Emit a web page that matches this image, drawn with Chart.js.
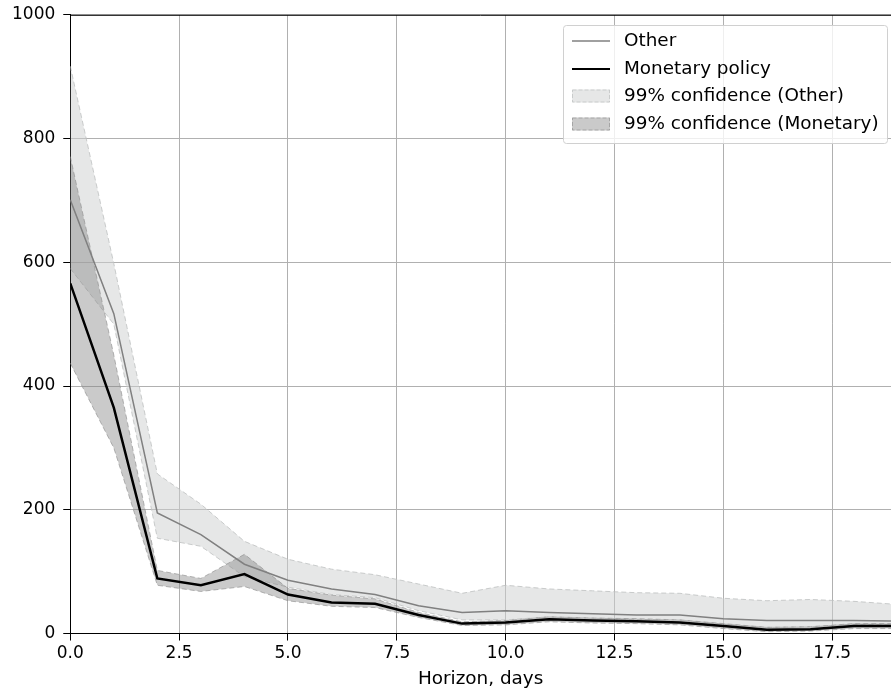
<!DOCTYPE html>
<html>
<head>
<meta charset="utf-8">
<script src="https://cdn.jsdelivr.net/npm/chart.js@4.4.0/dist/chart.umd.min.js"></script>
<style>
  html, body { margin: 0; padding: 0; background: #fff; }
  #wrap { width: 891px; height: 694px; }
</style>
</head>
<body>
<div id="wrap"><canvas id="chart" width="891" height="694"></canvas></div>
<script>
// horizon in days
const days = [0, 1, 2, 3, 4, 5, 6, 7, 8, 9, 10, 11, 12, 13, 14, 15, 16, 17, 18, 19];

const otherVals  = [701, 517, 195, 160, 112, 86, 72, 63, 45, 34, 37, 34, 32, 30, 30, 24, 21, 21, 21, 20];
const otherUpper = [917, 598, 258, 209, 149, 120, 104, 95, 80, 65, 78, 72, 69, 66, 65, 57, 53, 55, 52, 47];
const otherLower = [590, 500, 154, 141, 92, 75, 63, 58, 37, 22, 22, 27, 25, 23, 22, 15, 10, 11, 15, 14];

const monetaryVals  = [566, 365, 89, 78, 96, 63, 50, 48, 30, 16, 18, 23, 21, 20, 18, 12, 6, 7, 12, 12];
const monetaryUpper = [771, 450, 102, 89, 128, 73, 62, 56, 34, 19, 21, 27, 25, 24, 22, 16, 10, 11, 16, 16];
const monetaryLower = [437, 300, 78, 68, 76, 53, 44, 42, 26, 13, 14, 19, 17, 16, 14, 8, 3, 4, 8, 8];

const xTicks = [0, 2.5, 5, 7.5, 10, 12.5, 15, 17.5];
const legendLabels = ["Other", "Monetary policy", "99% confidence (Other)", "99% confidence (Monetary)"];

function pts(vals) {
  return days.map((d, i) => ({ x: d, y: vals[i] }));
}

const FONT = "'DejaVu Sans', sans-serif";

// top spine + matplotlib-like legend box
const extras = {
  id: "extras",
  afterDraw(chart) {
    const ctx = chart.ctx;
    const a = chart.chartArea;
    ctx.save();
    ctx.strokeStyle = "#000";
    ctx.lineWidth = 1;
    ctx.beginPath();
    ctx.moveTo(a.left, a.top + 0.5);
    ctx.lineTo(a.right, a.top + 0.5);
    ctx.stroke();

    // legend
    const bx = 563.5, by = 25.5, bw = 324, bh = 118;
    ctx.fillStyle = "rgba(255,255,255,0.8)";
    ctx.strokeStyle = "#d0d0d0";
    ctx.beginPath();
    ctx.roundRect(bx, by, bw, bh, 3);
    ctx.fill();
    ctx.stroke();

    const rows = [41, 69, 96, 124];
    // line handles
    ctx.setLineDash([]);
    ctx.strokeStyle = "#808080";
    ctx.lineWidth = 1.5;
    ctx.beginPath(); ctx.moveTo(572, rows[0]); ctx.lineTo(610, rows[0]); ctx.stroke();
    ctx.strokeStyle = "#000";
    ctx.lineWidth = 2.2;
    ctx.beginPath(); ctx.moveTo(572, rows[1]); ctx.lineTo(610, rows[1]); ctx.stroke();
    // patch handles
    ctx.lineWidth = 1;
    ctx.setLineDash([4, 2]);
    ctx.fillStyle = "rgba(205,207,207,0.5)";
    ctx.strokeStyle = "rgba(190,192,192,0.7)";
    ctx.fillRect(572, rows[2] - 6.5, 38, 13);
    ctx.strokeRect(572.5, rows[2] - 6, 37, 12);
    ctx.fillStyle = "rgba(128,128,128,0.42)";
    ctx.strokeStyle = "rgba(140,140,140,0.6)";
    ctx.fillRect(572, rows[3] - 6.5, 38, 13);
    ctx.strokeRect(572.5, rows[3] - 6, 37, 12);
    ctx.setLineDash([]);

    ctx.fillStyle = "#000";
    ctx.font = "18.4px " + FONT;
    ctx.textBaseline = "middle";
    ctx.textAlign = "left";
    legendLabels.forEach((t, i) => ctx.fillText(t, 624, rows[i]));
    ctx.restore();
  }
};

const bandDash = [5, 3];

new Chart(document.getElementById("chart"), {
  type: "line",
  data: {
    datasets: [
      {
        label: "Other upper",
        data: pts(otherUpper),
        borderColor: "rgba(190,192,192,0.8)",
        borderWidth: 1,
        borderDash: bandDash,
        backgroundColor: "rgba(205,207,207,0.5)",
        fill: 1,
        order: 10
      },
      {
        label: "Other lower",
        data: pts(otherLower),
        borderColor: "rgba(190,192,192,0.8)",
        borderWidth: 1,
        borderDash: bandDash,
        fill: false,
        order: 9
      },
      {
        label: "Monetary upper",
        data: pts(monetaryUpper),
        borderColor: "rgba(150,150,150,0.7)",
        borderWidth: 1,
        borderDash: bandDash,
        backgroundColor: "rgba(128,128,128,0.42)",
        fill: 3,
        order: 8
      },
      {
        label: "Monetary lower",
        data: pts(monetaryLower),
        borderColor: "rgba(150,150,150,0.7)",
        borderWidth: 1,
        borderDash: bandDash,
        fill: false,
        order: 7
      },
      {
        label: "Other",
        data: pts(otherVals),
        borderColor: "#808080",
        borderWidth: 1.5,
        fill: false,
        order: 2
      },
      {
        label: "Monetary policy",
        data: pts(monetaryVals),
        borderColor: "#000",
        borderWidth: 2.5,
        fill: false,
        order: 1
      }
    ]
  },
  options: {
    responsive: false,
    animation: false,
    elements: { point: { radius: 0 }, line: { tension: 0 } },
    layout: { padding: { left: 4, right: 0, top: 0, bottom: 4 } },
    plugins: {
      legend: { display: false },
      tooltip: { enabled: false },
      filler: { propagate: false }
    },
    scales: {
      x: {
        type: "linear",
        min: 0,
        max: 18.85,
        afterBuildTicks: (scale) => { scale.ticks = xTicks.map(v => ({ value: v })); },
        ticks: {
          color: "#000",
          font: { family: FONT, size: 17 },
          padding: 3,
          maxRotation: 0,
          callback: (v) => Number(v).toFixed(1)
        },
        grid: { color: "#b0b0b0", lineWidth: 1, tickColor: "#000", tickLength: 7 },
        border: { color: "#000", width: 1 },
        title: {
          display: true,
          text: "Horizon, days",
          color: "#000",
          font: { family: FONT, size: 18.4 },
          padding: { top: 1, bottom: 0 }
        }
      },
      y: {
        min: 0,
        max: 1000,
        ticks: {
          stepSize: 200,
          color: "#000",
          font: { family: FONT, size: 17, lineHeight: 0.8 },
          padding: 8,
          callback: (v) => String(v)
        },
        grid: { color: "#b0b0b0", lineWidth: 1, tickColor: "#000", tickLength: 7 },
        border: { color: "#000", width: 1 }
      }
    }
  },
  plugins: [extras]
});
</script>
</body>
</html>
